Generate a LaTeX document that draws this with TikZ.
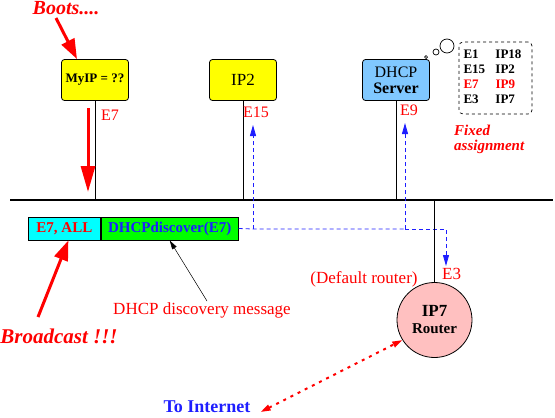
\documentclass[tikz,border=0pt]{standalone}
\usepackage{fontspec}
\setmainfont{Liberation Serif}
\usetikzlibrary{arrows.meta}
\definecolor{srvblue}{RGB}{128,200,255}
\definecolor{rtpink}{RGB}{255,192,192}
\definecolor{msgblue}{RGB}{30,30,255}
\definecolor{boxyellow}{RGB}{255,255,0}
\definecolor{msgcyan}{RGB}{0,255,255}
\definecolor{msggreen}{RGB}{0,255,0}
\definecolor{pured}{RGB}{255,0,0}
\begin{document}
\begin{tikzpicture}[x=1pt,y=-1pt,
  box/.style={draw=black, line width=0.8pt, rounded corners=3pt, minimum width=67pt, minimum height=41pt, inner sep=0pt, align=center},
  redlbl/.style={text=pured, font=\fontsize{16}{16}\selectfont, inner sep=0pt},
  bigred/.style={pured, line width=3pt, -{Triangle[length=20pt,width=14pt]}},
  bluedash/.style={msgblue, line width=0.8pt, dash pattern=on 4pt off 3pt},
  bluetip/.style={bluedash, -{Triangle[length=11pt,width=6pt]}},
  wire/.style={black, line width=0.8pt},
  reddot/.style={pured, line width=2pt, dash pattern=on 3pt off 5pt, {Triangle[length=10pt,width=6pt]}-{Triangle[length=10pt,width=6pt]}},
  bubble/.style={draw=black, line width=0.7pt}
]
\useasboundingbox (0,0) rectangle (555,418);

% bus
\coordinate (busL) at (10,200);
\coordinate (busR) at (553,200);
\draw[line width=2.5pt] (busL) -- (busR);

% hosts
\node[box, fill=boxyellow, font=\bfseries\fontsize{13}{13}\selectfont] (myip) at (95,80) {MyIP = ??};
\node[box, fill=boxyellow, font=\fontsize{17}{17}\selectfont] (ip2) at (243,80) {IP2};
\node[box, fill=srvblue, font=\fontsize{16}{16}\selectfont] (dhcp) at (396,80) {DHCP\\[0pt]\textbf{Server}};

\draw[wire] (myip.south) -- (myip.south |- busL);
\draw[wire] (ip2.south) -- (ip2.south |- busL);
\draw[wire] (dhcp.south) -- (dhcp.south |- busL);

% labels
\node[redlbl, anchor=west] (le7) at (101,115) {E7};
\node[redlbl, anchor=west] (le15) at (243,112) {E15};
\node[redlbl, anchor=west] (le9) at (400,110) {E9};
\node[redlbl, anchor=west, font=\fontsize{17}{17}\selectfont] (le3) at (442,274) {E3};
\node[redlbl, font=\fontsize{17}{17}\selectfont] (ldef) at (364,279) {(Default router)};

% boots
\node[text=pured, font=\bfseries\itshape\fontsize{20}{20}\selectfont, inner sep=0pt] (boots) at (66,8) {Boots....};
\coordinate (bootsT) at (56,18);
\draw[bigred] (bootsT) -- ([xshift=-18pt]myip.north);

% E7 red arrow
\coordinate (e7a) at (88,108);
\coordinate (e7b) at (88,192);
\draw[bigred, -{Triangle[length=26pt,width=14pt]}] (e7a) -- (e7b);

% message
\node[draw=black, line width=0.8pt, fill=msgcyan, minimum width=72pt, minimum height=23pt, inner sep=0pt, anchor=west, text=pured, font=\bfseries\fontsize{15}{15}\selectfont] (ealls) at (28,228.5) {E7, ALL};
\node[draw=black, line width=0.8pt, fill=msggreen, minimum width=137pt, minimum height=23pt, inner sep=0pt, anchor=west, text=msgblue, font=\bfseries\fontsize{15}{15}\selectfont] (disc) at (ealls.east) {DHCPdiscover(E7)};

% blue dashed
\coordinate (j15) at (253,229);
\coordinate (t15) at (253,125);
\coordinate (j9) at (405,229);
\coordinate (t9) at (405,123);
\coordinate (t3) at (446,266);
\draw[bluedash] (disc.east) -- (j15) -- (j9);
\draw[bluetip] (j9) -| (t3);
\draw[bluetip] (j15) -- (t15);
\draw[bluetip] (j9) -- (t9);

% discovery message label
\node[redlbl, font=\fontsize{17}{17}\selectfont] (dmsg) at (202,310) {DHCP discovery message};
\coordinate (dmsgT) at (207,301);
\draw[black, line width=0.5pt, -{Triangle[length=9pt,width=5pt]}] (dmsgT) -- (disc.south);

% broadcast
\node[text=pured, font=\bfseries\itshape\fontsize{21}{21}\selectfont, inner sep=0pt] (bcast) at (59,336) {Broadcast !!!};
\coordinate (bcastT) at (38,317);
\draw[bigred] (bcastT) -- ([xshift=4pt]ealls.south);

% server thought and table
\draw[bubble] (426,57) circle (1.5);
\draw[bubble] (436,52) circle (3);
\draw[bubble] (447,46) circle (7);
\node[draw=black, dashed, line width=0.7pt, rounded corners=4pt, minimum width=73pt, minimum height=72pt, inner sep=0pt, font=\bfseries\fontsize{13}{15}\selectfont] (tbl) at (495.5,78) {%
\begin{tabular}{@{}p{32pt}@{}l@{}}
E1 & IP18\\
E15 & IP2\\
\textcolor{pured}{E7} & \textcolor{pured}{IP9}\\
E3 & IP7
\end{tabular}\hspace*{6pt}};
\node[text=pured, font=\bfseries\itshape\fontsize{15}{15}\selectfont, inner sep=0pt, anchor=north west, align=left] (fixed) at (454,125) {Fixed\\assignment};

% router
\node[circle, draw=black, line width=0.8pt, fill=rtpink, minimum size=75pt, inner sep=0pt, align=center, font=\bfseries] (router) at (434.5,320) {{\fontsize{17}{17}\selectfont IP7}\\[5pt]{\fontsize{15}{15}\selectfont Router}};
\draw[wire] (router.north |- busL) -- (router.north);

% internet
\node[text=msgblue, font=\bfseries\fontsize{18}{18}\selectfont, inner sep=0pt] (toint) at (207,407) {To Internet};
\draw[reddot] ([shift={(10,5)}]toint.east) -- (router.212);
\end{tikzpicture}
\end{document}
